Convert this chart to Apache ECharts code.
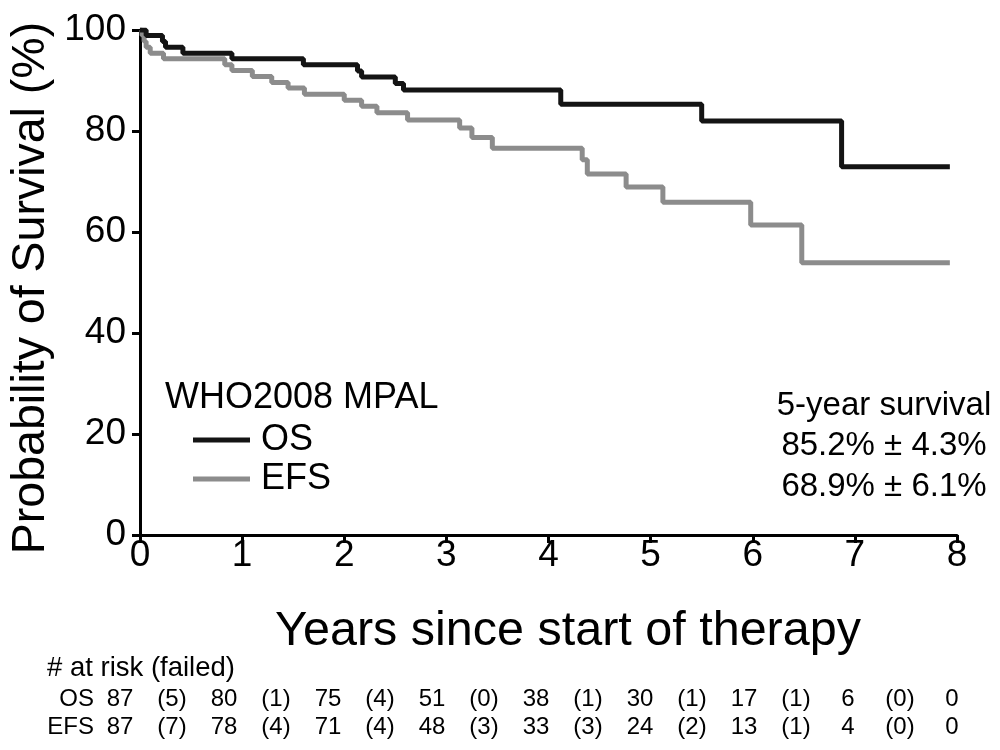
<!DOCTYPE html>
<html>
<head>
<meta charset="utf-8">
<script src="https://cdn.jsdelivr.net/npm/echarts@6/dist/echarts.min.js"></script>
<style>
html,body{margin:0;padding:0;background:#fff;}
#chart{width:1000px;height:750px;}
</style>
</head>
<body>
<div id="chart"></div>
<script>
// ---- Data ----
const osCurve = [
  [0,100],[0.06,98.9],[0.22,97.7],[0.25,96.6],[0.42,95.4],[0.9,94.3],
  [1.6,93.1],[2.13,91.9],[2.17,90.7],[2.5,89.4],[2.58,88.1],
  [4.12,85.3],[5.5,82.0],[6.87,72.9],[7.93,72.9]
];
const efsCurve = [
  [0,100],[0.02,98.9],[0.04,97.7],[0.06,96.6],[0.1,95.4],[0.23,94.3],
  [0.83,93.1],[0.9,92.0],[1.1,90.8],[1.29,89.6],[1.45,88.5],[1.61,87.3],
  [2.0,86.1],[2.17,84.9],[2.32,83.6],[2.62,82.2],
  [3.13,80.6],[3.25,78.7],[3.45,76.6],
  [4.33,74.3],[4.38,71.5],[4.76,68.9],
  [5.12,65.9],[5.98,61.4],[6.48,53.9],[7.93,53.9]
];
const yearTicks = [0,1,2,3,4,5,6,7,8];
const atRiskOS  = ['87','80','75','51','38','30','17','6','0'];
const failedOS  = ['(5)','(1)','(4)','(0)','(1)','(1)','(1)','(0)'];
const atRiskEFS = ['87','78','71','48','33','24','13','4','0'];
const failedEFS = ['(7)','(4)','(4)','(3)','(3)','(2)','(1)','(0)'];
const seriesNames = ['OS','EFS'];
const legendTitle = 'WHO2008 MPAL';
const survivalLines = ['5-year survival','85.2% ± 4.3%','68.9% ± 6.1%'];
const xTitle = 'Years since start of therapy';
const yTitle = 'Probability of Survival (%)';
const tableTitle = '# at risk (failed)';

const FONT = '"Liberation Sans", Arial, sans-serif';
const chart = echarts.init(document.getElementById('chart'), null, {renderer:'canvas'});

const axisLineStyle = {color:'#000', width:3};
chart.setOption({
  animation:false,
  backgroundColor:'#fff',
  textStyle:{fontFamily:FONT},
  grid:{left:140, right:43, top:30, bottom:215, containLabel:false},
  xAxis:{
    type:'value', min:0, max:8, interval:1,
    axisLine:{show:true, onZero:false, lineStyle:axisLineStyle},
    axisTick:{show:true, length:8, lineStyle:{color:'#000', width:3}},
    axisLabel:{fontSize:37, color:'#000', margin:2, fontFamily:FONT},
    splitLine:{show:false}
  },
  yAxis:{
    type:'value', min:0, max:100, interval:20,
    axisLine:{show:true, lineStyle:axisLineStyle},
    axisTick:{show:true, length:8, lineStyle:{color:'#000', width:3}},
    axisLabel:{fontSize:37, color:'#000', margin:14, fontFamily:FONT},
    splitLine:{show:false}
  },
  legend:{
    data:seriesNames, orient:'vertical', left:188, top:417,
    icon:'rect', itemWidth:57, itemHeight:5, itemGap:3,
    textStyle:{fontSize:36, color:'#000', fontFamily:FONT, padding:[0,0,0,6], lineHeight:36},
    selectedMode:false
  },
  series:[
    {name:'EFS', type:'line', step:'end', data:efsCurve, showSymbol:false, symbol:'none',
     lineStyle:{color:'#8c8c8c', width:5}, itemStyle:{color:'#8c8c8c'}, z:2},
    {name:'OS', type:'line', step:'end', data:osCurve, showSymbol:false, symbol:'none',
     lineStyle:{color:'#141414', width:5}, itemStyle:{color:'#141414'}, z:3}
  ]
});

// ---- annotations (titles, legend header, survival text, at-risk table) ----
const gfx = [];
function txt(x, y, s, size, align, extra){
  const el = {type:'text', x:x, y:y, silent:true,
    style:{text:s, fontSize:size, fontFamily:FONT, fill:'#000', textAlign:align||'left', textVerticalAlign:'middle'}};
  return Object.assign(el, extra||{});
}
const px = v => chart.convertToPixel({xAxisIndex:0}, v);
const gridBottom = chart.convertToPixel({yAxisIndex:0}, 0);
const gridLeft = px(0), gridRight = px(8);

gfx.push(txt(568, gridBottom+97, xTitle, 48.5, 'center'));
gfx.push(txt(31, 288, yTitle, 46.5, 'center', {rotation:Math.PI/2}));
gfx.push(txt(165, 398, legendTitle, 36, 'left'));
const sCx = 884;
gfx.push(txt(sCx, 406, survivalLines[0], 33, 'center'));
gfx.push(txt(sCx, 446, survivalLines[1], 33, 'center'));
gfx.push(txt(sCx, 487, survivalLines[2], 33, 'center'));

// table
gfx.push(txt(47, 668, tableTitle, 27.5, 'left'));
const rowY = [699, 727];
gfx.push(txt(94, rowY[0], seriesNames[0], 24, 'right'));
gfx.push(txt(94, rowY[1], seriesNames[1], 24, 'right'));
const step = 104;
const numCenter = i => px(yearTicks[i]) - 20 + i*(step - (px(1)-px(0)));
for (let i=0;i<yearTicks.length;i++){
  gfx.push(txt(numCenter(i), rowY[0], atRiskOS[i], 24, 'center'));
  gfx.push(txt(numCenter(i), rowY[1], atRiskEFS[i], 24, 'center'));
  if (i < failedOS.length){
    const m = (numCenter(i)+numCenter(i+1))/2;
    gfx.push(txt(m, rowY[0], failedOS[i], 24, 'center'));
    gfx.push(txt(m, rowY[1], failedEFS[i], 24, 'center'));
  }
}
chart.setOption({graphic:gfx});
</script>
</body>
</html>
